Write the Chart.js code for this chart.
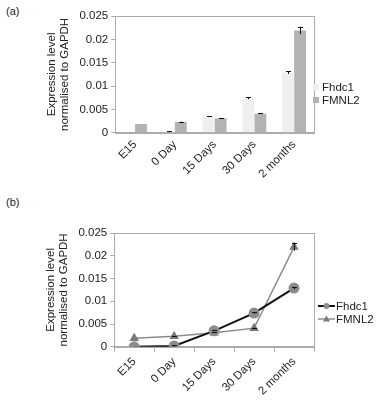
<!DOCTYPE html>
<html><head><meta charset="utf-8">
<script src="https://cdn.jsdelivr.net/npm/chart.js@4/dist/chart.umd.min.js"></script>
<style>
html,body{margin:0;padding:0;background:#fff;width:380px;height:401px;overflow:hidden;font-family:"Liberation Sans",Arial,sans-serif;}
.wrap{position:absolute;left:0;width:380px;}
.lab{position:absolute;left:6px;font-size:11px;color:#222;}
</style></head><body>
<div class="lab" style="top:5px">(a)</div>
<div class="lab" style="top:196px">(b)</div>
<div class="wrap" style="top:0;height:190px"><canvas id="ca" width="380" height="186"></canvas></div>
<div class="wrap" style="top:190px;height:211px"><canvas id="cb" width="380" height="211"></canvas></div>
<script>
const categories = ["E15", "0 Day", "15 Days", "30 Days", "2 months"];
const fhdc1 = [0.0000, 0.0002, 0.0035, 0.0074, 0.0129];
const fmnl2 = [0.0019, 0.0023, 0.0031, 0.0041, 0.0219];
const fhdc1Err = [0, 0.0001, 0.0001, 0.0002, 0.0003];
const fmnl2Err = [0, 0.0001, 0.0001, 0.0001, 0.0008];
const yTicks = [0, 0.005, 0.01, 0.015, 0.02, 0.025];
const yTitle = ["Expression level", "normalised to GAPDH"];

const FONT = "'Liberation Sans', Arial, sans-serif";
Chart.defaults.font.family = FONT;
Chart.defaults.color = "#222";
Chart.defaults.animation = false;

const boxPlugin = {
  id: "box",
  afterDatasetsDraw(chart) {
    const a = chart.chartArea, c = chart.ctx;
    c.save(); c.strokeStyle = "#ababab"; c.lineWidth = 1;
    c.strokeRect(Math.round(a.left) + 0.5, Math.round(a.top) + 0.5, Math.round(a.right - a.left), Math.round(a.bottom - a.top));
    c.restore();
  }
};
const errPlugin = {
  id: "err",
  afterDatasetsDraw(chart) {
    const c = chart.ctx, ys = chart.scales.y;
    chart.data.datasets.forEach((ds, i) => {
      if (!ds.errors) return;
      const meta = chart.getDatasetMeta(i);
      meta.data.forEach((el, j) => {
        const e = ds.errors[j]; if (!e) return;
        const v = ds.data[j];
        const y1 = ys.getPixelForValue(v + e), y0 = ys.getPixelForValue(v - e);
        c.save(); c.strokeStyle = "#111"; c.lineWidth = 1;
        c.beginPath();
        c.moveTo(Math.round(el.x) + 0.5, y0); c.lineTo(Math.round(el.x) + 0.5, y1);
        c.moveTo(Math.round(el.x) - 2, Math.round(y1) + 0.5); c.lineTo(Math.round(el.x) + 3, Math.round(y1) + 0.5);
        c.stroke(); c.restore();
      });
    });
  }
};
// legend drawn from the datasets' own styles, at the right of the plot
function legendPlugin(kind, x, ys) {
  return {
    id: "legend_" + kind,
    afterDraw(chart) {
      const c = chart.ctx;
      chart.data.datasets.forEach((ds, i) => {
        const cy = ys[i];
        c.save();
        let tx;
        if (kind === "bar") {
          c.fillStyle = ds.backgroundColor;
          c.fillRect(x, cy - 3, 6, 6);
          tx = x + 9;
        } else {
          c.strokeStyle = ds.borderColor; c.lineWidth = ds.borderWidth;
          c.beginPath(); c.moveTo(x, cy); c.lineTo(x + 17, cy); c.stroke();
          c.fillStyle = ds.pointBackgroundColor;
          const mx = x + 8.5;
          c.beginPath();
          if (ds.pointStyle === "triangle") {
            c.moveTo(mx, cy - 3.5); c.lineTo(mx + 3.5, cy + 2.5); c.lineTo(mx - 3.5, cy + 2.5); c.closePath();
          } else {
            c.arc(mx, cy, 3, 0, Math.PI * 2);
          }
          c.fill();
          tx = x + 18;
        }
        c.fillStyle = "#222"; c.font = "11.5px " + FONT; c.textBaseline = "middle";
        c.fillText(ds.label, tx, cy + 0.5);
        c.restore();
      });
    }
  };
}

function yScale() {
  return {
    min: 0, max: 0.025,
    afterBuildTicks(s) { s.ticks = yTicks.map(v => ({ value: v })); },
    ticks: { font: { size: 11.5 }, color: "#222", padding: 3, callback: v => String(Number(v.toFixed(3))) },
    grid: { drawOnChartArea: false, tickLength: 4, color: "#ababab" },
    border: { color: "#ababab" },
    title: { display: true, text: yTitle, font: { size: 11.5, lineHeight: 1.15 }, color: "#222", padding: { top: 0, bottom: 5 } }
  };
}
function xScale(tickLen, pad) {
  return {
    offset: true,
    ticks: { font: { size: 11.5 }, color: "#222", maxRotation: 45, minRotation: 45, padding: pad },
    grid: { drawOnChartArea: false, offset: true, tickLength: tickLen, color: "#ababab" },
    border: { color: "#ababab" }
  };
}

new Chart(document.getElementById("ca"), {
  type: "bar",
  data: {
    labels: categories,
    datasets: [
      { label: "Fhdc1", data: fhdc1, errors: fhdc1Err, backgroundColor: "#efefef", borderWidth: 0 },
      { label: "FMNL2", data: fmnl2, errors: fmnl2Err, backgroundColor: "#b3b3b3", borderWidth: 0 }
    ]
  },
  options: {
    responsive: false,
    categoryPercentage: 0.6, barPercentage: 1.0,
    layout: { padding: { left: 45, top: 16, right: 66, bottom: 0 } },
    plugins: { tooltip: { enabled: false }, legend: { display: false } },
    scales: { x: xScale(0, 5), y: yScale() }
  },
  plugins: [boxPlugin, errPlugin, legendPlugin("bar", 313, [87, 100])]
});

new Chart(document.getElementById("cb"), {
  type: "line",
  data: {
    labels: categories,
    datasets: [
      { label: "Fhdc1", data: fhdc1, errors: fhdc1Err, borderColor: "#111", borderWidth: 2, pointStyle: "circle", pointRadius: 4.5, pointBackgroundColor: "#8c8c8c", pointBorderColor: "#8c8c8c", tension: 0 },
      { label: "FMNL2", data: fmnl2, errors: fmnl2Err, borderColor: "#8c8c8c", borderWidth: 1.5, pointStyle: "triangle", pointRadius: 4, pointBackgroundColor: "#7a7a7a", pointBorderColor: "#7a7a7a", tension: 0 }
    ]
  },
  options: {
    responsive: false,
    layout: { padding: { left: 44, top: 43, right: 66, bottom: 0 } },
    plugins: { tooltip: { enabled: false }, legend: { display: false } },
    scales: { x: xScale(5, 3), y: yScale() }
  },
  plugins: [boxPlugin, errPlugin, legendPlugin("line", 318, [116, 129])]
});
</script>
</body></html>
